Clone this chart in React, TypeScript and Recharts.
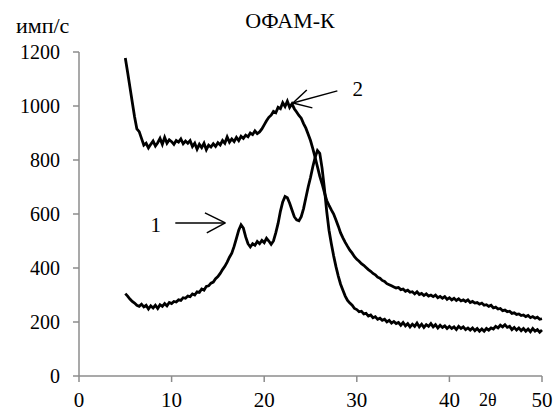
import { LineChart, Line, XAxis, YAxis, ReferenceLine, ReferenceDot } from 'recharts';

// 2θ sampling, 0.25° steps, one row per 5°
const angles = [
  5, 5.25, 5.5, 5.75, 6, 6.25, 6.5, 6.75, 7, 7.25, 7.5, 7.75, 8, 8.25, 8.5, 8.75, 9, 9.25, 9.5, 9.75,
  10, 10.25, 10.5, 10.75, 11, 11.25, 11.5, 11.75, 12, 12.25, 12.5, 12.75, 13, 13.25, 13.5, 13.75, 14, 14.25, 14.5, 14.75,
  15, 15.25, 15.5, 15.75, 16, 16.25, 16.5, 16.75, 17, 17.25, 17.5, 17.75, 18, 18.25, 18.5, 18.75, 19, 19.25, 19.5, 19.75,
  20, 20.25, 20.5, 20.75, 21, 21.25, 21.5, 21.75, 22, 22.25, 22.5, 22.75, 23, 23.25, 23.5, 23.75, 24, 24.25, 24.5, 24.75,
  25, 25.25, 25.5, 25.75, 26, 26.25, 26.5, 26.75, 27, 27.25, 27.5, 27.75, 28, 28.25, 28.5, 28.75, 29, 29.25, 29.5, 29.75,
  30, 30.25, 30.5, 30.75, 31, 31.25, 31.5, 31.75, 32, 32.25, 32.5, 32.75, 33, 33.25, 33.5, 33.75, 34, 34.25, 34.5, 34.75,
  35, 35.25, 35.5, 35.75, 36, 36.25, 36.5, 36.75, 37, 37.25, 37.5, 37.75, 38, 38.25, 38.5, 38.75, 39, 39.25, 39.5, 39.75,
  40, 40.25, 40.5, 40.75, 41, 41.25, 41.5, 41.75, 42, 42.25, 42.5, 42.75, 43, 43.25, 43.5, 43.75, 44, 44.25, 44.5, 44.75,
  45, 45.25, 45.5, 45.75, 46, 46.25, 46.5, 46.75, 47, 47.25, 47.5, 47.75, 48, 48.25, 48.5, 48.75, 49, 49.25, 49.5, 49.75,
  50,
];

// curve 1 (lower)
const curve1 = [
  305, 296, 285, 276, 270, 262, 258, 266, 256, 262, 248, 260, 252, 262, 250, 264, 258, 268, 260, 272,
  268, 276, 274, 282, 280, 290, 288, 296, 294, 304, 300, 312, 310, 322, 318, 332, 334, 344, 348, 360,
  368, 380, 394, 406, 422, 440, 455, 480, 510, 540, 560, 548, 515, 490, 478, 490, 484, 498, 490, 502,
  494, 510, 500, 488, 500, 530, 565, 610, 645, 665, 660, 640, 615, 590, 578, 575, 590, 620, 660, 700,
  735, 775, 810, 835, 825, 770, 695, 610, 540, 490, 445, 405, 370, 340, 318, 296, 280, 270, 262, 250,
  246, 238, 240, 230, 232, 222, 226, 216, 220, 210, 214, 206, 210, 200, 206, 196, 202, 194, 198, 188,
  198, 186, 194, 182, 192, 184, 196, 182, 192, 180, 190, 184, 194, 182, 190, 178, 188, 180, 186, 176,
  184, 176, 182, 172, 184, 176, 182, 172, 178, 170, 178, 168, 176, 166, 174, 166, 176, 170, 178, 174,
  184, 178, 188, 182, 190, 180, 184, 172, 180, 170, 178, 168, 176, 166, 174, 164, 176, 166, 172, 162,
  170,
];

// curve 2 (upper)
const curve2 = [
  1178, 1125, 1070, 1015, 960, 915, 905, 880, 855, 862, 845, 858, 870, 852, 864, 880, 858, 884, 862, 875,
  868, 858, 872, 866, 878, 860, 870, 862, 872, 850, 862, 840, 858, 846, 862, 838, 855, 848, 860, 850,
  864, 856, 872, 862, 885, 866, 878, 868, 884, 872, 888, 880, 892, 886, 900, 894, 908, 898, 904, 915,
  930, 945, 958, 966, 980, 975, 995, 990, 1012, 998, 1018, 995, 1008, 990, 978, 965, 955, 935, 918, 895,
  872, 842, 810, 775, 740, 712, 680, 650, 632, 615, 600, 578, 555, 530, 512, 495, 480, 466, 455, 442,
  432, 425, 416, 410, 402, 394, 388, 380, 375, 366, 362, 354, 350, 342, 338, 334, 330, 326, 328, 320,
  322, 314, 318, 310, 312, 304, 312, 302, 306, 298, 304, 296, 300, 294, 300, 290, 295, 288, 294, 284,
  290, 282, 288, 280, 286, 278, 282, 276, 282, 272, 276, 270, 272, 266, 270, 262, 264, 258, 262, 252,
  255, 248, 250, 242, 244, 238, 240, 232, 234, 228, 230, 224, 226, 220, 224, 216, 220, 214, 218, 210,
  212,
];

const xTicks = [0, 10, 20, 30, 40, 50];
const yTicks = [0, 200, 400, 600, 800, 1000, 1200];

const data = angles.map((a, i) => ({ angle: a, c1: curve1[i], c2: curve2[i] }));

const serif = 'Liberation Serif, Tinos, Times New Roman, DejaVu Serif, serif';
const axisGray = '#8c8c8c';

export default function App() {
  const yTickStyle = { fill: '#000', fontSize: 20, fontFamily: serif };
  const xTickStyle = { fill: '#000', fontSize: 21, fontFamily: serif };
  const labelText = { fill: '#000', fontSize: 21, fontFamily: serif };

  return (
    <div style={{ position: 'absolute', left: 0, top: 0, width: 554, height: 412, overflow: 'hidden', background: '#fff', fontFamily: serif }}>
      <LineChart width={554} height={412} data={data} margin={{ top: 52, right: 12, bottom: 0, left: 19 }}>
        <XAxis
          dataKey="angle"
          type="number"
          domain={[0, 50]}
          ticks={xTicks}
          height={36}
          tick={xTickStyle}
          tickSize={6}
          tickMargin={10}
          axisLine={{ stroke: axisGray, strokeWidth: 1.5 }}
          tickLine={{ stroke: axisGray, strokeWidth: 1.5 }}
        />
        <YAxis
          type="number"
          domain={[0, 1200]}
          ticks={yTicks}
          width={60}
          tick={yTickStyle}
          tickSize={6}
          tickMargin={13}
          axisLine={{ stroke: axisGray, strokeWidth: 1.5 }}
          tickLine={{ stroke: axisGray, strokeWidth: 1.5 }}
        />
        <Line type="linear" dataKey="c1" stroke="#000" strokeWidth={2.8} dot={false} isAnimationActive={false} />
        <Line type="linear" dataKey="c2" stroke="#000" strokeWidth={2.8} dot={false} isAnimationActive={false} />

        {/* arrow 1 */}
        <ReferenceLine segment={[{ x: 10.4, y: 567 }, { x: 15.8, y: 567 }]} stroke="#000" strokeWidth={1.5} ifOverflow="visible" />
        <ReferenceLine segment={[{ x: 13.6, y: 604 }, { x: 15.8, y: 567 }]} stroke="#000" strokeWidth={1.5} ifOverflow="visible" />
        <ReferenceLine segment={[{ x: 13.8, y: 530 }, { x: 15.8, y: 567 }]} stroke="#000" strokeWidth={1.5} ifOverflow="visible" />
        <ReferenceDot x={8.3} y={560} r={0} stroke="none" ifOverflow="visible" label={{ value: '1', position: 'center', ...labelText }} />

        {/* arrow 2 */}
        <ReferenceLine segment={[{ x: 27.9, y: 1056 }, { x: 23.1, y: 1011 }]} stroke="#000" strokeWidth={1.5} ifOverflow="visible" />
        <ReferenceLine segment={[{ x: 24.6, y: 1059 }, { x: 23.1, y: 1011 }]} stroke="#000" strokeWidth={1.5} ifOverflow="visible" />
        <ReferenceLine segment={[{ x: 25.2, y: 993 }, { x: 23.1, y: 1011 }]} stroke="#000" strokeWidth={1.5} ifOverflow="visible" />
        <ReferenceDot x={30.1} y={1064} r={0} stroke="none" ifOverflow="visible" label={{ value: '2', position: 'center', ...labelText }} />
      </LineChart>

      <div style={{ position: 'absolute', left: 190, width: 200, top: 9, textAlign: 'center', fontSize: 22, lineHeight: '24px' }}>
        ОФАМ-К
      </div>
      <div style={{ position: 'absolute', left: 16, top: 14, fontSize: 22, lineHeight: '24px' }}>имп/с</div>
      <div style={{ position: 'absolute', left: 479, top: 390, fontSize: 18, lineHeight: '20px' }}>2θ</div>
    </div>
  );
}
